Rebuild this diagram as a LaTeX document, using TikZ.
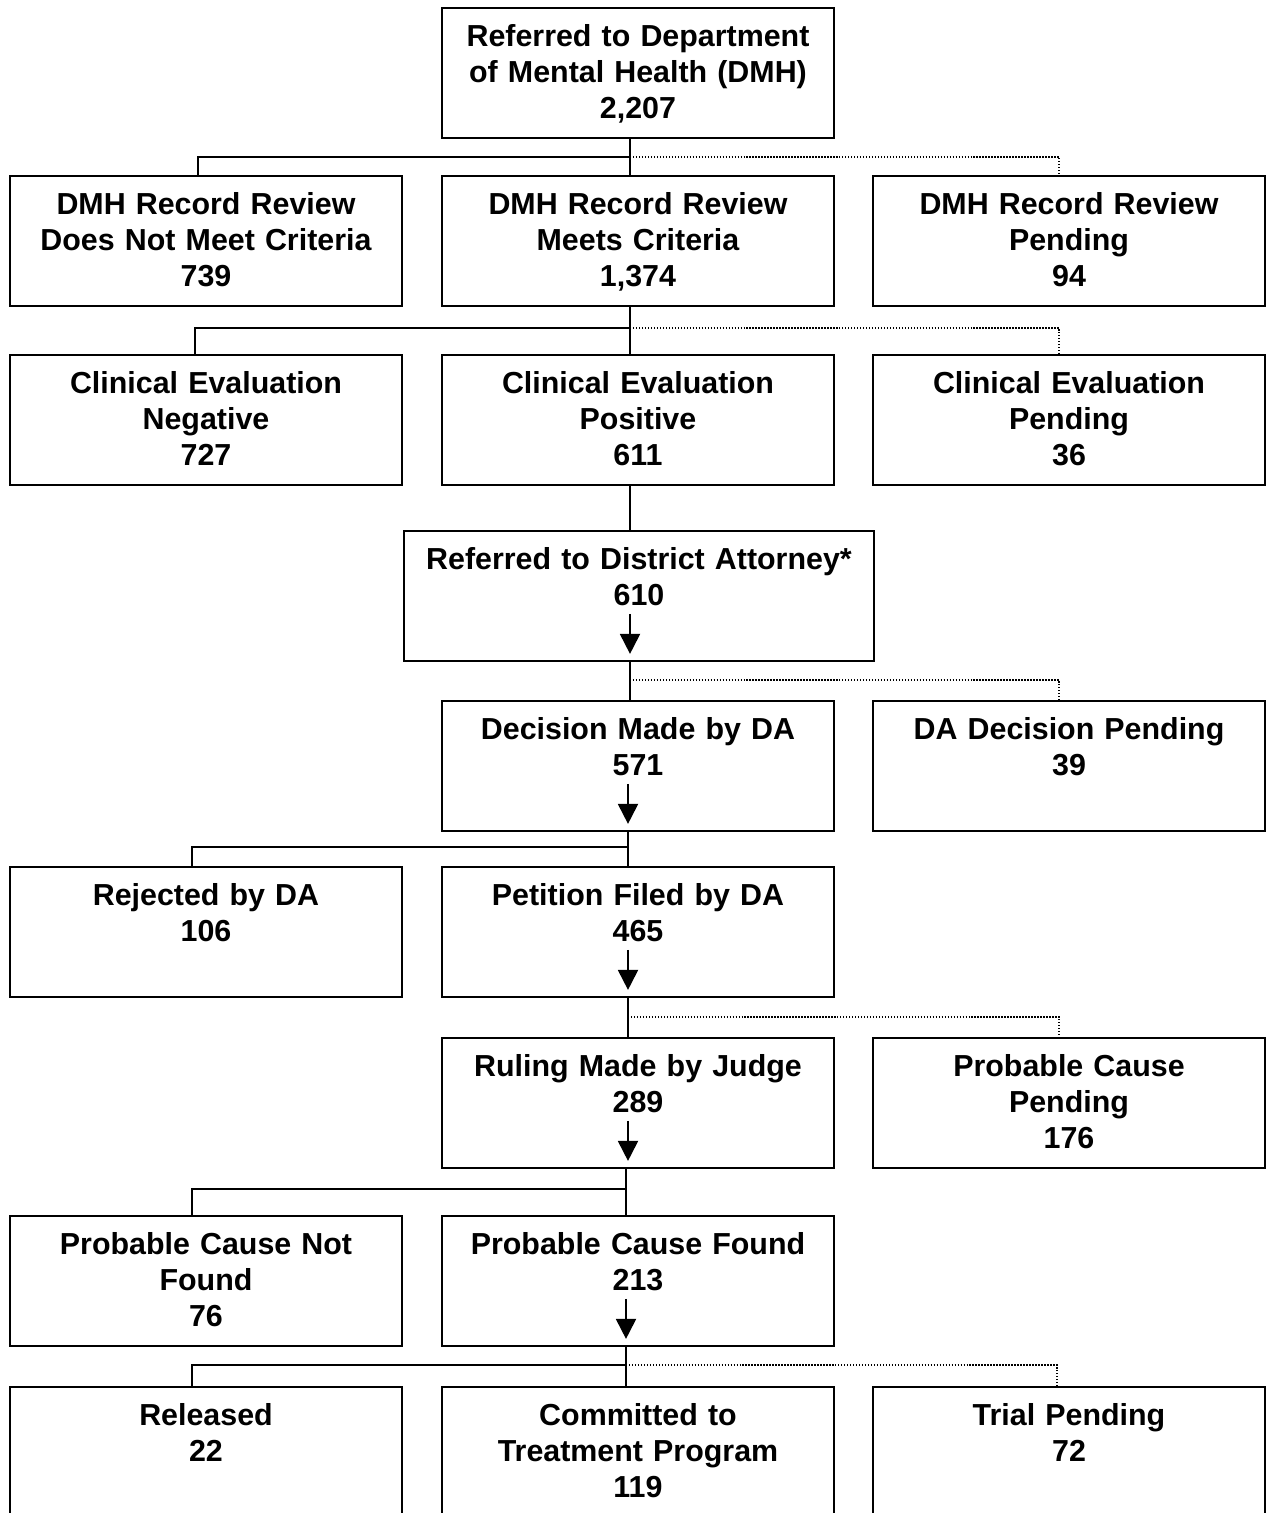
\documentclass[tikz,border=0pt]{standalone}
\usepackage{fontspec}
\setmainfont{Liberation Sans}
\usetikzlibrary{arrows.meta,calc}

\tikzset{
  box/.style={draw=black, line width=1.1pt, anchor=north, minimum width=7.84cm, minimum height=2.6cm,
    text width=7.6cm, align=center, inner sep=0pt, font=\fontsize{17.3}{20.5}\selectfont\bfseries,
    execute at begin node={\rule{0pt}{17.2pt}}, execute at end node=\strut},
  widebox/.style={box, minimum width=9.4cm, text width=9.2cm},
  link/.style={line width=1.1pt},
  pend/.style={line width=0.8pt, dash pattern=on 0.8pt off 0.9pt},
  flow/.style={line width=1.1pt, -{Triangle[length=0.4cm,width=0.4cm]}},
}

\begin{document}
\begin{tikzpicture}[x=0.02cm, y=-0.02cm]

	\clip (0,0) rectangle (1266,1513);

	\node[box] (dmh)       at (638,7)     {Referred to Department\\of Mental Health (DMH)\\2,207};
	\node[box] (recno)     at (206,175)   {DMH Record Review\\Does Not Meet Criteria\\739};
	\node[box] (recyes)    at (638,175)   {DMH Record Review\\Meets Criteria\\1,374};
	\node[box] (recpend)   at (1069,175)  {DMH Record Review\\Pending\\94};
	\node[box] (evalneg)   at (206,354)   {Clinical Evaluation\\Negative\\727};
	\node[box] (evalpos)   at (638,354)   {Clinical Evaluation\\Positive\\611};
	\node[box] (evalpend)  at (1069,354)  {Clinical Evaluation\\Pending\\36};
	\node[widebox] (da)    at (639,530)   {Referred to District Attorney*\\610\\};
	\node[box] (decision)  at (638,700)   {Decision Made by DA\\571\\};
	\node[box] (dapend)    at (1069,700)  {DA Decision Pending\\39\\};
	\node[box] (rejected)  at (206,866)   {Rejected by DA\\106\\};
	\node[box] (petition)  at (638,866)   {Petition Filed by DA\\465\\};
	\node[box] (ruling)    at (638,1037)  {Ruling Made by Judge\\289\\};
	\node[box] (pcpend)    at (1069,1037) {Probable Cause\\Pending\\176};
	\node[box] (pcnot)     at (206,1215)  {Probable Cause Not\\Found\\76};
	\node[box] (pcfound)   at (638,1215)  {Probable Cause Found\\213\\};
	\node[box] (released)  at (206,1386)  {Released\\22\\};
	\node[box] (committed) at (638,1386)  {Committed to\\Treatment Program\\119};
	\node[box] (trialpend) at (1069,1386) {Trial Pending\\72\\};

	\coordinate (s1) at (630,157);  \coordinate (l1) at (198,157);  \coordinate (r1) at (1059,157);
	\coordinate (s2) at (630,328);  \coordinate (l2) at (195,328);  \coordinate (r2) at (1059,328);
	\coordinate (s4) at (630,680);  \coordinate (r4) at (1059,680);
	\coordinate (s5) at (628,847);  \coordinate (l5) at (192,847);
	\coordinate (s6) at (628,1017); \coordinate (r6) at (1059,1017);
	\coordinate (s7) at (626,1189); \coordinate (l7) at (192,1189);
	\coordinate (s8) at (626,1365); \coordinate (l8) at (192,1365); \coordinate (r8) at (1057,1365);

	\draw[link] (dmh.south -| s1) -- (recyes.north -| s1);
	\draw[link] (s1) -- (l1) -- (l1 |- recno.north);
	\draw[pend] (s1) -- (r1) -- (r1 |- recpend.north);

	\draw[link] (recyes.south -| s2) -- (evalpos.north -| s2);
	\draw[link] (s2) -- (l2) -- (l2 |- evalneg.north);
	\draw[pend] (s2) -- (r2) -- (r2 |- evalpend.north);

	\draw[link] (evalpos.south -| s2) -- (da.north -| s2);
	\draw[flow] ($(da.south -| s2)+(0,-48)$) -- ($(da.south -| s2)+(0,-8)$);

	\draw[link] (da.south -| s4) -- (decision.north -| s4);
	\draw[pend] (s4) -- (r4) -- (r4 |- dapend.north);
	\draw[flow] ($(decision.south -| s5)+(0,-48)$) -- ($(decision.south -| s5)+(0,-8)$);

	\draw[link] (decision.south -| s5) -- (petition.north -| s5);
	\draw[link] (s5) -- (l5) -- (l5 |- rejected.north);
	\draw[flow] ($(petition.south -| s6)+(0,-48)$) -- ($(petition.south -| s6)+(0,-8)$);

	\draw[link] (petition.south -| s6) -- (ruling.north -| s6);
	\draw[pend] (s6) -- (r6) -- (r6 |- pcpend.north);
	\draw[flow] ($(ruling.south -| s6)+(0,-48)$) -- ($(ruling.south -| s6)+(0,-8)$);

	\draw[link] (ruling.south -| s7) -- (pcfound.north -| s7);
	\draw[link] (s7) -- (l7) -- (l7 |- pcnot.north);
	\draw[flow] ($(pcfound.south -| s7)+(0,-48)$) -- ($(pcfound.south -| s7)+(0,-8)$);

	\draw[link] (pcfound.south -| s8) -- (committed.north -| s8);
	\draw[link] (s8) -- (l8) -- (l8 |- released.north);
	\draw[pend] (s8) -- (r8) -- (r8 |- trialpend.north);

\end{tikzpicture}
\end{document}
